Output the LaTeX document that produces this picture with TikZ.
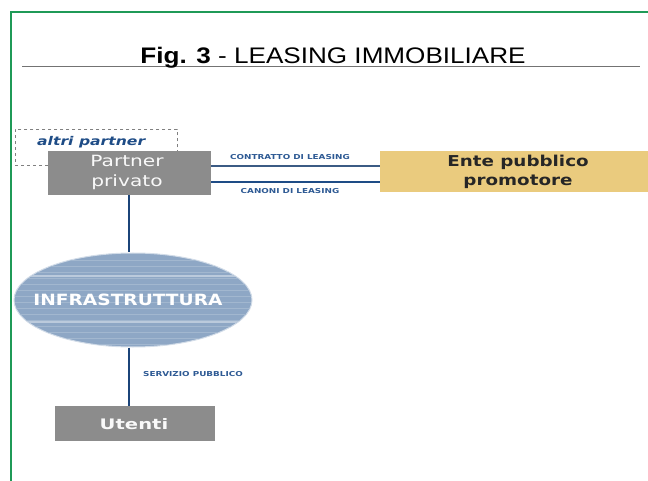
\documentclass[tikz,border=0pt]{standalone}
\usepackage{fontspec}
\usepackage{graphicx}
\setmainfont{Liberation Sans}
\newfontfamily\boxfont{DejaVu Sans}
\usetikzlibrary{shapes.geometric}
\definecolor{frameG}{HTML}{1F9A57}
\definecolor{boxgray}{HTML}{8C8C8C}
\definecolor{tan}{HTML}{EACB7E}
\definecolor{linkblue}{HTML}{1E4C86}
\definecolor{lblblue}{HTML}{2E5A94}
\definecolor{ellblue}{HTML}{8EA7C5}
\newcommand{\wx}[2]{\scalebox{#1}[1]{#2}}
\begin{document}
\begin{tikzpicture}[x=1pt,y=-1pt,
  graybox/.style={draw=none,fill=boxgray,text=white!95!gray,align=center,inner sep=0pt},
  link/.style={draw=linkblue,line width=2.6pt},
  lbl/.style={text=lblblue,font=\boxfont\bfseries\fontsize{6.8}{8}\selectfont,inner sep=0pt}]
\useasboundingbox (0,0) rectangle (648,481);
% frame
\draw[frameG,line width=2.2pt] (11,481) -- (11,12) -- (648,12);
% title
\draw[gray!90!black,line width=1pt] (22,66.5) -- (640,66.5);
\node (title) [anchor=base,inner sep=0pt,font=\fontsize{22.5}{24}\selectfont] at (333,63.5) {\wx{1.16}{\textbf{Fig. 3} - LEASING IMMOBILIARE}};
% altri partner
\node (altri) [draw=gray,dashed,line width=0.6pt,minimum width=162pt,minimum height=36pt,anchor=north west,inner sep=0pt] at (15,129) {};
\node (altritxt) [anchor=west,text=linkblue,font=\boxfont\bfseries\itshape\fontsize{12}{14}\selectfont,inner sep=0pt] at (37,142) {\wx{1.3}{altri partner}};
% partner privato
\node (pp) [graybox,minimum width=163pt,minimum height=44pt,anchor=north west] at (48,151) {};
\node (pptxt) [text=white!95!gray,font=\boxfont\fontsize{15.5}{19.5}\selectfont,align=center,inner sep=0pt] at (127,172.5) {\wx{1.3}{Partner}\\\wx{1.3}{privato}};
% ente pubblico
\node (ente) [fill=tan,minimum width=268pt,minimum height=41pt,anchor=north west,inner sep=0pt] at (380,151) {};
\node (entetxt) [align=center,inner sep=0pt,font=\boxfont\bfseries\fontsize{15}{19}\selectfont,text=black!85] at (518,171.5) {\wx{1.22}{Ente pubblico}\\\wx{1.22}{promotore}};
% links
\coordinate (a1) at (211,166); \coordinate (b1) at (380,166);
\coordinate (a2) at (211,182); \coordinate (b2) at (380,182);
\draw[link,draw=linkblue!70!gray] (a1) -- (b1);
\draw[link] (a2) -- (b2);
\node (l1) [lbl] at (290,157) {\wx{1.3}{CONTRATTO DI LEASING}};
\node (l2) [lbl] at (290,191) {\wx{1.3}{CANONI DI LEASING}};
% infrastruttura
\node (infra) [ellipse,fill=ellblue,draw=white!60!ellblue,line width=1pt,minimum width=238pt,minimum height=94pt,inner sep=0pt] at (133,300) {};
\begin{scope}
\clip (133,300) ellipse [x radius=118.5pt,y radius=46.5pt];
\foreach \yy in {260,266,...,346} {\draw[white!18!ellblue,line width=0.4pt] (10,\yy) -- (260,\yy);}
\draw[white!40!ellblue,line width=1.2pt] (10,276) -- (260,276);
\draw[white!40!ellblue,line width=1.2pt] (10,322) -- (260,322);
\end{scope}
\node (infratxt) [text=white,font=\boxfont\bfseries\fontsize{15.5}{16}\selectfont,inner sep=0pt] at (128,300) {\wx{1.2}{INFRASTRUTTURA}};
% utenti
\node (ut) [graybox,minimum width=160pt,minimum height=35pt,anchor=north west] at (55,406) {};
\node (uttxt) [text=white!95!gray,font=\boxfont\bfseries\fontsize{14.5}{15}\selectfont,inner sep=0pt] at (134,424) {\wx{1.35}{Utenti}};
% vertical links
\draw[link,draw=linkblue!90!black] (pp.south -| 129,0) -- (infra.north -| 129,0);
\draw[link,draw=linkblue!90!black] (infra.south -| 129,0) -- (ut.north -| 129,0);
\node (l3) [lbl] at (193,374) {\wx{1.3}{SERVIZIO PUBBLICO}};
\end{tikzpicture}
\end{document}
